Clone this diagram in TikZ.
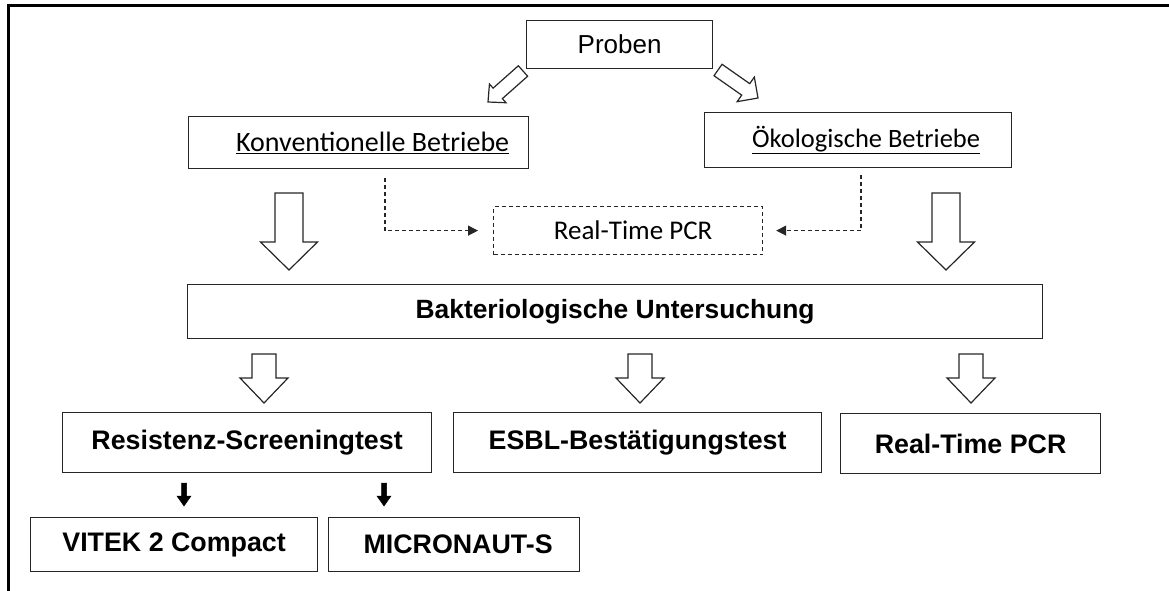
\documentclass[tikz,border=0pt]{standalone}
\usepackage{fontspec}
\setmainfont{Liberation Sans}
\newfontfamily\calib{Carlito}
\usetikzlibrary{calc,arrows.meta}
% hollow block arrow: [opts]{tail}{tip}{shaft half width}{head half width}{head length}
\newcommand\blockarr[6][]{%
  \coordinate (bacc) at ($(#3)!#6!(#2)$);
  \draw[hollowarrow,#1] ($(#2)!#4!90:(#3)$) -- ($(bacc)!#4!90:(#3)$) -- ($(bacc)!#5!90:(#3)$)
    -- (#3) -- ($(bacc)!#5!-90:(#3)$) -- ($(bacc)!#4!-90:(#3)$) -- ($(#2)!#4!-90:(#3)$) -- cycle;}
\tikzset{
  box/.style={draw=black!85, line width=1.2pt, inner sep=0pt, anchor=north west, fill=white},
  plain/.style={font=\fontsize{26}{30}\selectfont},
  calfont/.style={font=\calib\fontsize{27}{31}\selectfont},
  boldfont/.style={font=\bfseries\fontsize{26.8}{30}\selectfont},
  dbox/.style={box, dash pattern=on 4pt off 3pt},
  hollowarrow/.style={draw=black!85, line width=1.2pt, fill=white, line join=miter},
  dconn/.style={draw=black!85, line width=1.2pt, dash pattern=on 4pt off 3pt, -{Triangle[length=10pt,width=10pt]}},
  frame/.style={line width=3pt, draw=black}
}
\begin{document}
\begin{tikzpicture}[x=1pt,y=-1pt]
\useasboundingbox (0,0) rectangle (1169,591);
\draw[frame] (8.5,591) -- (8.5,5.5) -- (1169,5.5);

\node[box, plain, minimum width=186pt, minimum height=48pt] (proben) at (526,20) {Proben};
\node[box, calfont, font=\calib\fontsize{28}{32}\selectfont, minimum width=340pt, minimum height=52pt] (konv) at (188,116) {\hspace{28pt}\underline{Konventionelle Betriebe}};
\node[box, calfont, font=\calib\fontsize{26.5}{31}\selectfont, minimum width=307pt, minimum height=55pt] (oeko) at (704,112) {\hspace{16pt}\underline{Ökologische Betriebe}};
\node[dbox, calfont, minimum width=269pt, minimum height=48pt] (rt1) at (493,206) {\hspace{10pt}Real-Time PCR};
\node[box, boldfont, font=\bfseries\fontsize{26.4}{30}\selectfont, minimum width=855pt, minimum height=54pt] (bakt) at (187,284) {Bakteriologische Untersuchung\hspace{12pt}};
\node[box, boldfont, minimum width=369pt, minimum height=60pt] (resist) at (62,412) {Resistenz-Screeningtest\hspace{6pt}};
\node[box, boldfont, minimum width=368pt, minimum height=60pt] (esbl) at (453,412) {ESBL-Bestätigungstest\hspace{14pt}};
\node[box, boldfont, minimum width=260pt, minimum height=60pt] (rt2) at (840,413) {Real-Time PCR};
\node[box, boldfont, minimum width=287pt, minimum height=54pt] (vitek) at (30,517) {VITEK 2 Compact};
\node[box, boldfont, minimum width=251pt, minimum height=54pt] (micro) at (328,517) {\hspace{8pt}MICRONAUT-S};

% diagonal arrows from Proben
\coordinate (dl1) at (523,71); \coordinate (dl2) at (488,102);
\coordinate (dr1) at (718,70); \coordinate (dr2) at (758,98);
\blockarr{dl1}{dl2}{7pt}{12.5pt}{13pt}
\blockarr{dr1}{dr2}{7pt}{15pt}{15pt}

% big down arrows
\coordinate (bl1) at (289,193); \coordinate (bl2) at (289,270);
\coordinate (br1) at (946,193); \coordinate (br2) at (946,270);
\blockarr{bl1}{bl2}{14pt}{28.5pt}{28pt}
\blockarr{br1}{br2}{14pt}{28.5pt}{28pt}

% small down arrows
\coordinate (s11) at (264,354); \coordinate (s12) at (264,403);
\coordinate (s21) at (640,354); \coordinate (s22) at (640,403);
\coordinate (s31) at (971,354); \coordinate (s32) at (971,403);
\blockarr{s11}{s12}{12pt}{24pt}{25pt}
\blockarr{s21}{s22}{12pt}{24pt}{25pt}
\blockarr{s31}{s32}{12pt}{24pt}{25pt}

% black arrows
\coordinate (k11) at (184,483); \coordinate (k12) at (184,506);
\coordinate (k21) at (384,483); \coordinate (k22) at (384,506);
\blockarr[fill=black,draw=black,line width=0.5pt]{k11}{k12}{2.5pt}{7pt}{10pt}
\blockarr[fill=black,draw=black,line width=0.5pt]{k21}{k22}{2.5pt}{7pt}{10pt}

% dashed connectors
\coordinate (dk) at (385,178);
\coordinate (dj) at (861,175);
\draw[dconn, shorten >=15pt] (dk) |- (rt1.west);
\draw[dconn, shorten >=13pt] (dj) |- (rt1.east);
\end{tikzpicture}
\end{document}
